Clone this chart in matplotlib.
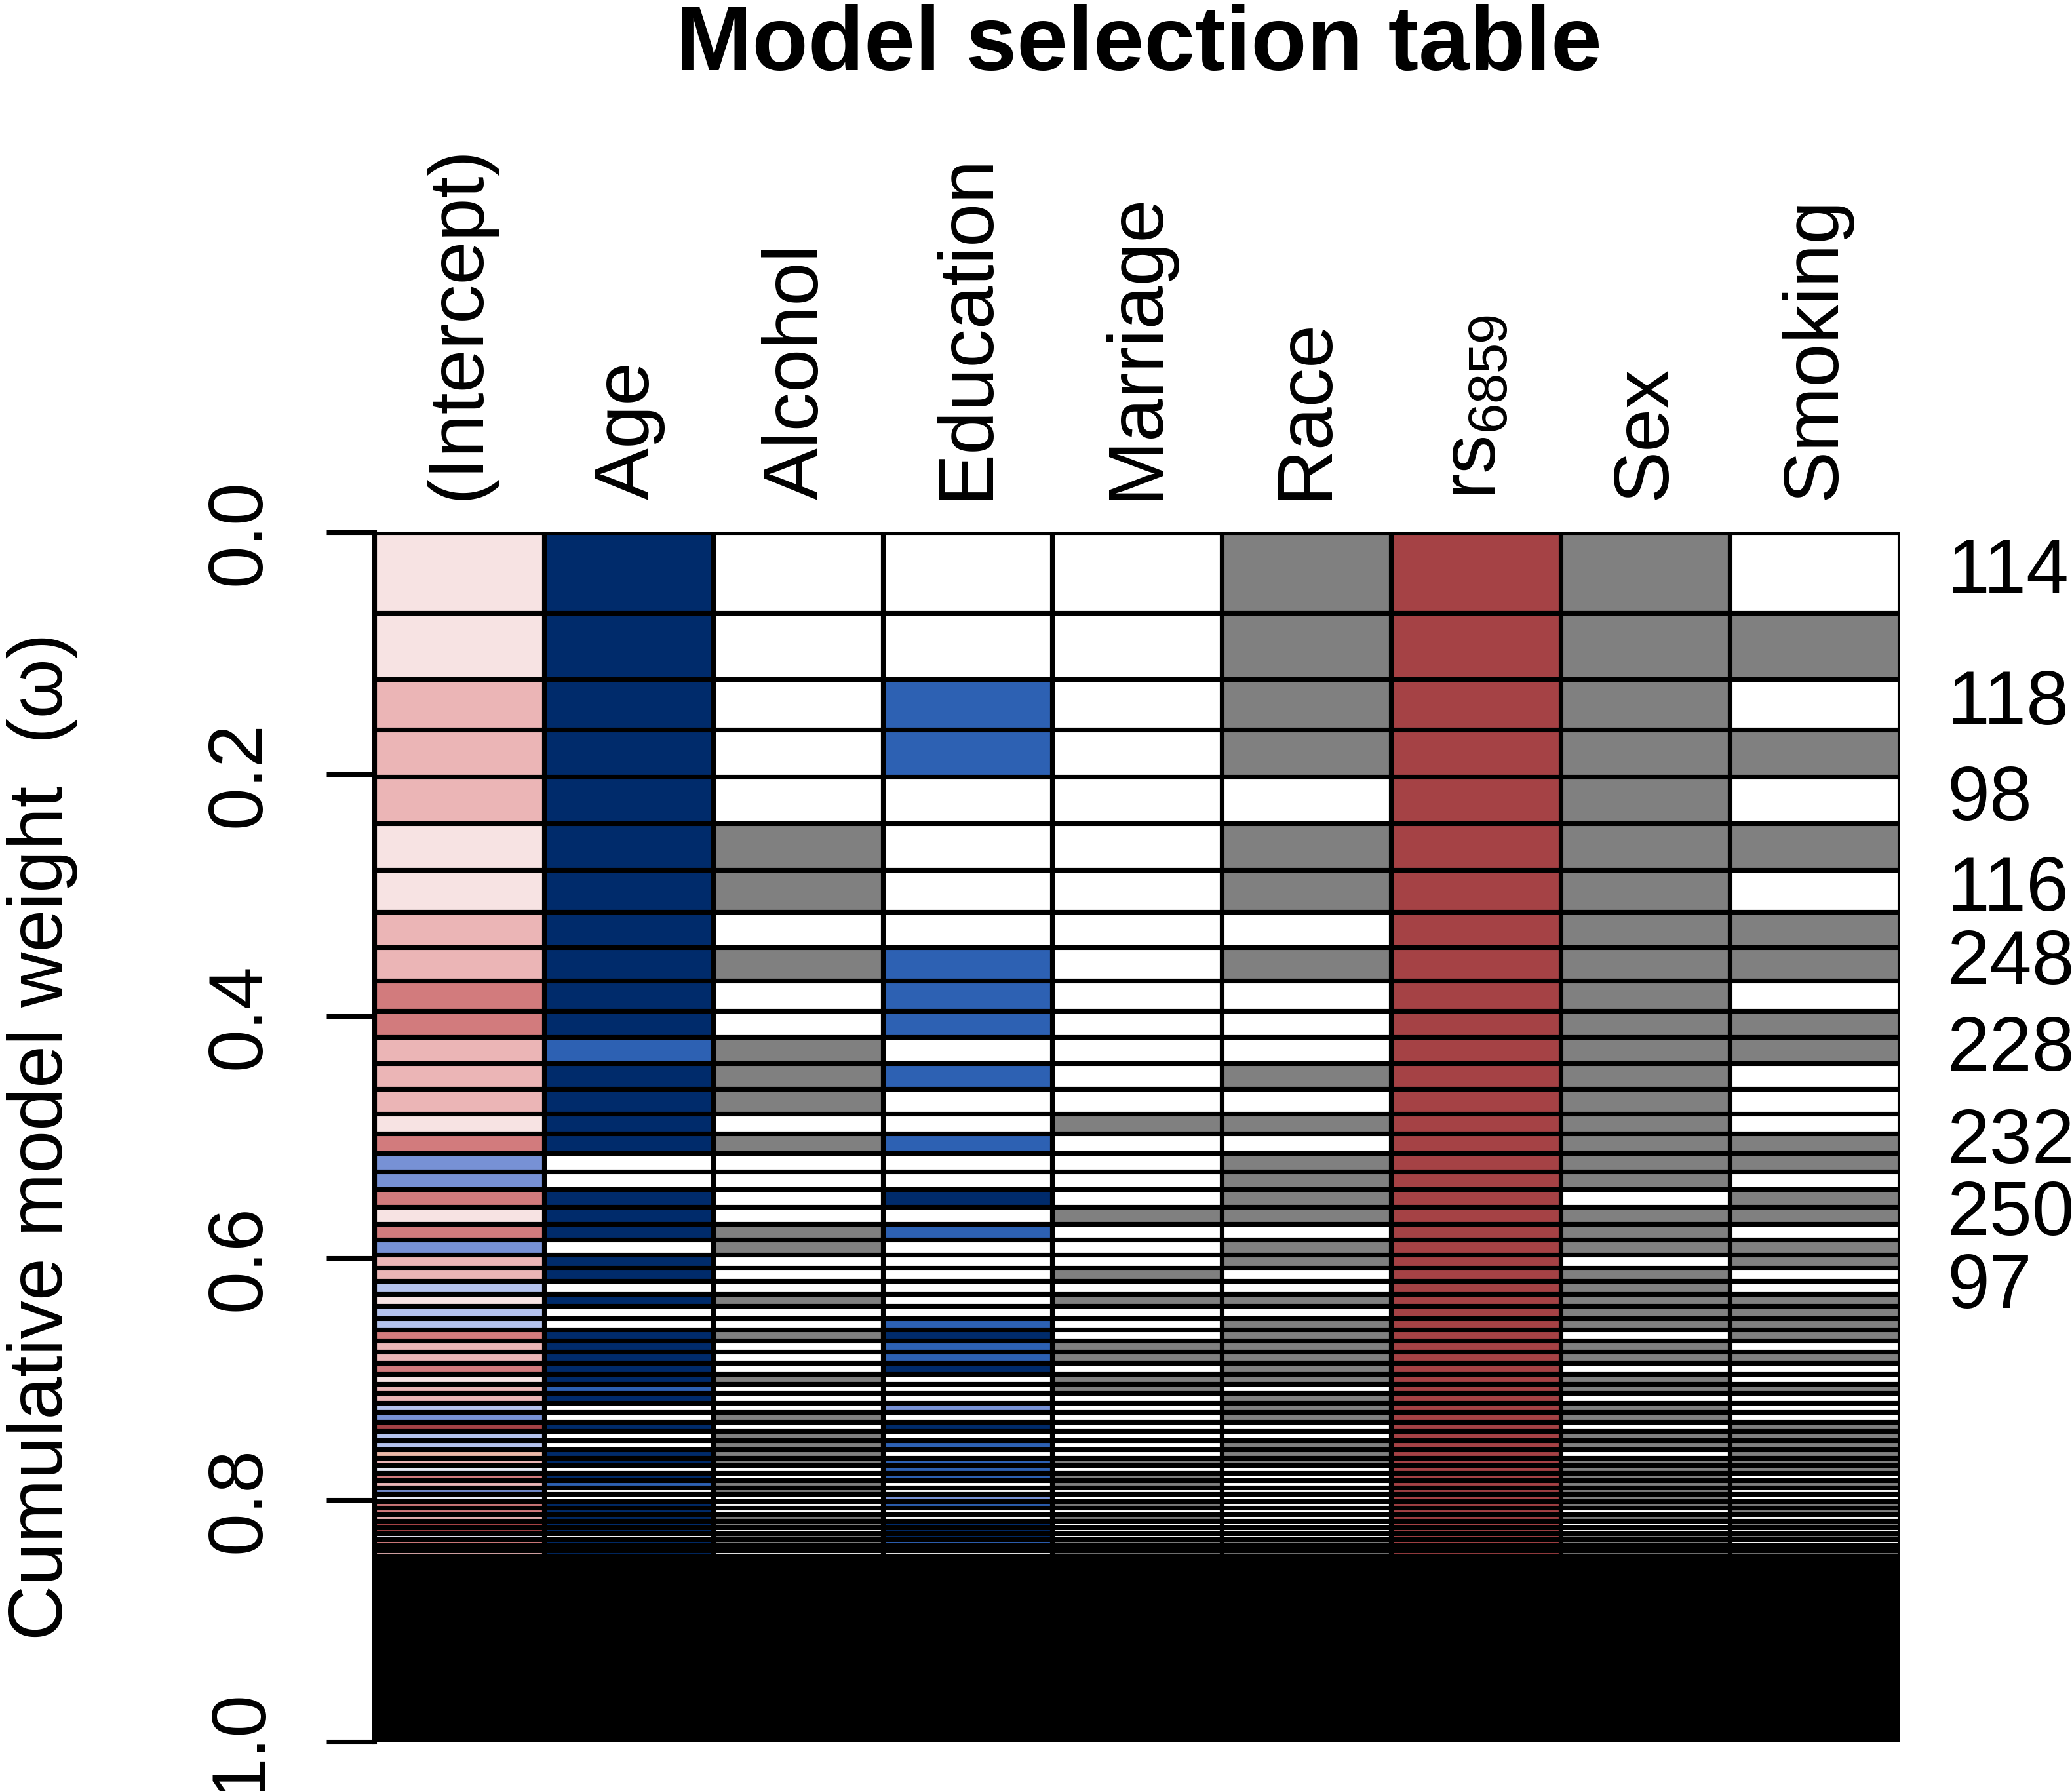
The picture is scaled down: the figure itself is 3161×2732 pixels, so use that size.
import matplotlib
matplotlib.use("Agg")
import matplotlib.pyplot as plt
import numpy as np

plt.rcParams["font.family"] = ["Liberation Sans", "DejaVu Sans"]
plt.rcParams["mathtext.fontset"] = "custom"
plt.rcParams["mathtext.rm"] = "Liberation Sans"

terms = ["(Intercept)", "Age", "Alcohol", "Education", "Marriage",
         "Race", r"$\mathregular{rs_{6859}}$", "Sex", "Smoking"]

# Akaike weight of each model, best model first
weights = [
    0.0668, 0.0546, 0.0417, 0.0388, 0.0388, 0.0383, 0.0347, 0.0296, 0.0276, 0.0248,
    0.0217, 0.0217, 0.0208, 0.0207, 0.0163, 0.0162, 0.0154, 0.0145, 0.0145, 0.0145,
    0.0126, 0.0126, 0.0109, 0.0109, 0.0109, 0.0099, 0.0099, 0.0093, 0.0093, 0.0093,
    0.0093, 0.0090, 0.0082, 0.0078, 0.0078, 0.0078, 0.0078, 0.0078, 0.0078, 0.0075,
    0.0069, 0.0062, 0.0061, 0.0061, 0.0058, 0.0058, 0.0056, 0.0056, 0.0055, 0.0054,
    0.0053, 0.0051, 0.0048, 0.0046, 0.0044, 0.0042, 0.0040, 0.0038, 0.0036, 0.0034,
    0.0032, 0.0030,
]

# one code per term (same order as `terms`) for every model row
cells = [
    "pNWWWGRGW", "pNWWWGRGG", "qNWBWGRGW", "qNWBWGRGG", "qNWWWWRGW",
    "pNGWWGRGG", "pNGWWGRGW", "qNWWWWRGG", "qNGBWGRGG", "dNWBWWRGW",
    "dNWBWWRGG", "qBGWWWRGG", "qNGBWGRGW", "qNGWWWRGW", "pNWWGGRGW",
    "dNGBWWRGG", "lWWWWGRGG", "lWWWWGRGW", "dNWNWGRWG", "pNWWGGRGG",
    "dNGBWWRGW", "lWGWWGRGG", "qNWWWGRWG", "qNWWGWRGW", "vWWWWWRGW",
    "pNGWGGRGG", "vWWWWWRGG", "vWWBWGRGG", "dNGNWGRWG", "qNWBGGRGW",
    "qNWBGGRGG", "dNWNWGRWW", "pNGWGGRGW", "qBWWGWRGG", "qNWWWGRWW",
    "vWWlWGRGW", "lWGWWGRGW", "RNWNWWRWG", "vWGWWWRGG", "vWGBWGRGG",
    "oNGWWGRWG", "qNGBGGRGG", "eWWBWWRGG", "dNWBGWRGW", "qBGWGWRGG",
    "lWGWWWRGW", "eWWlWWRGW", "dNWBGWRGG", "dNWWWWRWG", "qNGWGWRGW",
    "RNGNWWRWG", "RNWNWWRWW", "eWGNWWRGG", "dNGBGGRGW", "dNWWWGRGW",
    "qNWWGGRGG", "vWWWGGRGG", "pNWWGGRGW", "lWGWWGRGG", "qNWWGWRGW",
    "vWGWWWRWG", "dNGBWWRGG",
]

# model numbers printed on the right (row index -> label)
model_labels = {0: "114", 2: "118", 4: "98", 6: "116", 8: "248",
                11: "228", 15: "232", 19: "250", 24: "97"}

colours = {
    "W": "#FFFFFF", "G": "#808080", "N": "#002B6B", "B": "#2D61B3",
    "R": "#A54245", "p": "#F7E3E3", "q": "#EBB5B6", "d": "#D27B7D",
    "l": "#7791D5", "v": "#B4C2EC", "e": "#E6E9F5", "o": "#EDB9A9",
}

fs = 28
lw = 1.7

fig = plt.figure(figsize=(3162 / 300, 2732 / 300), dpi=300)
ax = fig.add_axes([571 / 3162, 1 - 2657 / 2732, 2327 / 3162, 1845 / 2732])

w = np.array(weights)
tops = np.concatenate([[0.0], np.cumsum(w)[:-1]])
n = len(w)

for j in range(len(terms)):
    ax.bar(np.full(n, j), w, bottom=tops, width=1, align="edge",
           color=[colours[row[j]] for row in cells],
           edgecolor="black", linewidth=lw)

# the many remaining tiny models merge into a solid black block
rest = 1.0 - w.sum()
ax.bar(np.arange(len(terms)), rest, bottom=w.sum(), width=1, align="edge",
       color="black", edgecolor="black", linewidth=lw)

ax.set_xlim(0, len(terms))
ax.set_ylim(1, 0)
for side in ["top", "right", "bottom"]:
    ax.spines[side].set_visible(False)
ax.spines["left"].set_linewidth(lw)
ax.set_xticks([])
ax.set_yticks([0.0, 0.2, 0.4, 0.6, 0.8, 1.0])
ax.set_yticklabels(["0.0", "0.2", "0.4", "0.6", "0.8", "1.0"])
ax.tick_params(axis="y", length=17.5, width=lw, pad=18.5, labelsize=fs)
plt.setp(ax.get_yticklabels(), rotation=90, va="center", ha="right")

for j, name in enumerate(terms):
    ax.text(j + 0.5, -0.027, name, rotation=90, ha="center", va="bottom",
            fontsize=28.5, clip_on=False)

for i, lab in model_labels.items():
    ax.text(9.28, tops[i] + w[i] / 2, lab, ha="left", va="center",
            fontsize=fs, clip_on=False)

fig.text(65 / 3162, 1 - 1734 / 2732, "Cumulative model weight  (\u03c9)",
         rotation=90, ha="center", va="center", fontsize=fs)
fig.text(1737 / 3162, 1 - 107 / 2732, "Model selection table",
         ha="center", va="baseline", fontsize=33.5, fontweight="bold")

fig.savefig("out.png", dpi=300)
